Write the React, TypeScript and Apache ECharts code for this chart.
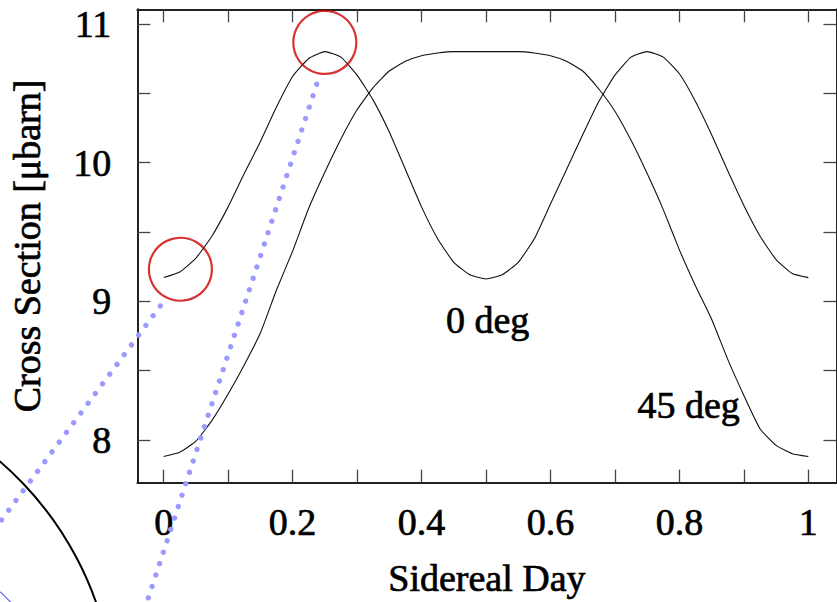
import React, { useEffect, useRef } from "react";
import * as echarts from "echarts";

// Sidereal day sample positions
const siderealDay = [
  0, 0.025, 0.05, 0.075, 0.1, 0.125, 0.15, 0.175, 0.2, 0.225, 0.25, 0.275, 0.3, 0.325, 0.35, 0.375, 0.4,
  0.425, 0.45, 0.475, 0.5, 0.525, 0.55, 0.575, 0.6, 0.625, 0.65, 0.675, 0.7, 0.725, 0.75, 0.775, 0.8,
  0.825, 0.85, 0.875, 0.9, 0.925, 0.95, 0.975, 1,
];
// Cross section, 0 deg
const crossSection0deg = [
  9.17, 9.21, 9.31, 9.47, 9.68, 9.92, 10.15, 10.4, 10.62, 10.75, 10.8, 10.76, 10.63, 10.45, 10.22, 9.95,
  9.68, 9.45, 9.28, 9.19, 9.16, 9.19, 9.28, 9.45, 9.7, 9.95, 10.2, 10.44, 10.63, 10.76, 10.8, 10.76, 10.64,
  10.44, 10.2, 9.94, 9.69, 9.47, 9.3, 9.2, 9.17,
];
// Cross section, 45 deg
const crossSection45deg = [
  7.88, 7.91, 7.99, 8.14, 8.33, 8.54, 8.77, 9.08, 9.36, 9.67, 9.93, 10.17, 10.38, 10.54, 10.66, 10.73,
  10.77, 10.79, 10.8, 10.8, 10.8, 10.8, 10.8, 10.79, 10.77, 10.73, 10.66, 10.53, 10.37, 10.16, 9.92, 9.66,
  9.37, 9.11, 8.87, 8.58, 8.32, 8.08, 7.96, 7.9, 7.88,
];
// Highlighted points (red circles)
const highlightX = [0.026, 0.25];
const highlightY = [9.23, 10.866];

const xTickValues = [0, 0.1, 0.2, 0.3, 0.4, 0.5, 0.6, 0.7, 0.8, 0.9, 1];
const xLabelValues = [0, 0.2, 0.4, 0.6, 0.8, 1];
const yTickValues = [8, 8.5, 9, 9.5, 10, 10.5, 11];
const yLabelValues = [8, 9, 10, 11];

const seriesNames = ["0 deg", "45 deg"];

const FONT = "Liberation Serif";

export default function App() {
  const ref = useRef<HTMLDivElement>(null);

  useEffect(() => {
    if (!ref.current) return;
    const chart = echarts.init(ref.current, null, { renderer: "svg" });

    const frameLine = { show: true, onZero: false, lineStyle: { color: "#222", width: 2 } };
    const tickStyle = { color: "#444", width: 1.3 };
    const labelFont = {
      fontFamily: FONT,
      fontSize: 38,
      color: "#000",
      textBorderColor: "#000",
      textBorderWidth: 0.7,
    };

    const xMin = -0.0408;
    const xMax = 1.0437;
    const yMin = 7.691;
    const yMax = 11.105;

    const zip = (ys: number[]) => siderealDay.map((x, i) => [x, ys[i]]);

    chart.setOption({
      animation: false,
      backgroundColor: "#fff",
      grid: { left: 137, top: 9.3, width: 699.5, height: 478, containLabel: false },
      xAxis: [
        {
          type: "value",
          position: "bottom",
          min: xMin,
          max: xMax,
          axisLine: frameLine,
          axisTick: { show: true, inside: true, length: 13, customValues: xTickValues, lineStyle: tickStyle },
          axisLabel: { show: true, customValues: xLabelValues, margin: 20, ...labelFont },
          splitLine: { show: false },
          name: "Sidereal Day",
          nameLocation: "middle",
          nameGap: 76,
          nameTextStyle: labelFont,
        },
        {
          type: "value",
          position: "top",
          min: xMin,
          max: xMax,
          axisLine: frameLine,
          axisTick: { show: true, inside: true, length: 13, customValues: xTickValues, lineStyle: tickStyle },
          axisLabel: { show: false },
          splitLine: { show: false },
        },
      ],
      yAxis: [
        {
          type: "value",
          position: "left",
          min: yMin,
          max: yMax,
          axisLine: frameLine,
          axisTick: { show: true, inside: true, length: 13, customValues: yTickValues, lineStyle: tickStyle },
          axisLabel: { show: true, customValues: yLabelValues, margin: 26, ...labelFont },
          splitLine: { show: false },
          name: "Cross Section [μbarn]",
          nameLocation: "middle",
          nameGap: 91,
          nameTextStyle: labelFont,
        },
        {
          type: "value",
          position: "right",
          min: yMin,
          max: yMax,
          axisLine: frameLine,
          axisTick: { show: true, inside: true, length: 13, customValues: yTickValues, lineStyle: tickStyle },
          axisLabel: { show: false },
          splitLine: { show: false },
        },
      ],
      series: [
        {
          name: seriesNames[0],
          type: "line",
          data: zip(crossSection0deg),
          showSymbol: false,
          symbol: "none",
          lineStyle: { color: "#111", width: 1.1 },
          smooth: 0.15,
        },
        {
          name: seriesNames[1],
          type: "line",
          data: zip(crossSection45deg),
          showSymbol: false,
          symbol: "none",
          lineStyle: { color: "#111", width: 1.1 },
          smooth: 0.15,
        },
        {
          type: "scatter",
          data: highlightX.map((x, i) => [x, highlightY[i]]),
          symbol: "circle",
          symbolSize: 63,
          clip: false,
          itemStyle: { color: "rgba(0,0,0,0)", borderColor: "#cc0000", borderWidth: 2.2 },
          z: 5,
        },
      ],
      graphic: [
        {
          type: "text",
          x: 446,
          y: 320,
          style: {
            text: seriesNames[0],
            fontFamily: FONT,
            fontSize: 38,
            fill: "#000",
            stroke: "#000",
            lineWidth: 0.7,
            align: "left",
            verticalAlign: "middle",
          },
        },
        {
          type: "text",
          x: 637.5,
          y: 405,
          style: {
            text: seriesNames[1],
            fontFamily: FONT,
            fontSize: 38,
            fill: "#000",
            stroke: "#000",
            lineWidth: 0.7,
            align: "left",
            verticalAlign: "middle",
          },
        },
        {
          type: "circle",
          shape: { cx: -215.5, cy: 711.5, r: 330 },
          style: { fill: "none", stroke: "#000", lineWidth: 2 },
          silent: true,
        },
        {
          type: "line",
          shape: { x1: 0, y1: 591.5, x2: 11, y2: 602.5 },
          style: { stroke: "#0000ff", lineWidth: 1 },
          silent: true,
        },
        {
          type: "line",
          shape: { x1: 160.3, y1: 306, x2: -3, y2: 526 },
          style: { stroke: "#9999ff", lineWidth: 5.3, lineDash: [0.01, 12.1], lineCap: "round" },
          silent: true,
          z: 10,
        },
        {
          type: "line",
          shape: { x1: 316.7, y1: 84.3, x2: 145, y2: 608 },
          style: { stroke: "#9999ff", lineWidth: 5.3, lineDash: [0.01, 12], lineCap: "round" },
          silent: true,
          z: 10,
        },
      ],
    });

    return () => chart.dispose();
  }, []);

  return (
    <div
      ref={ref}
      style={{ position: "fixed", left: 0, top: 0, width: 837, height: 602, background: "#fff" }}
    />
  );
}
